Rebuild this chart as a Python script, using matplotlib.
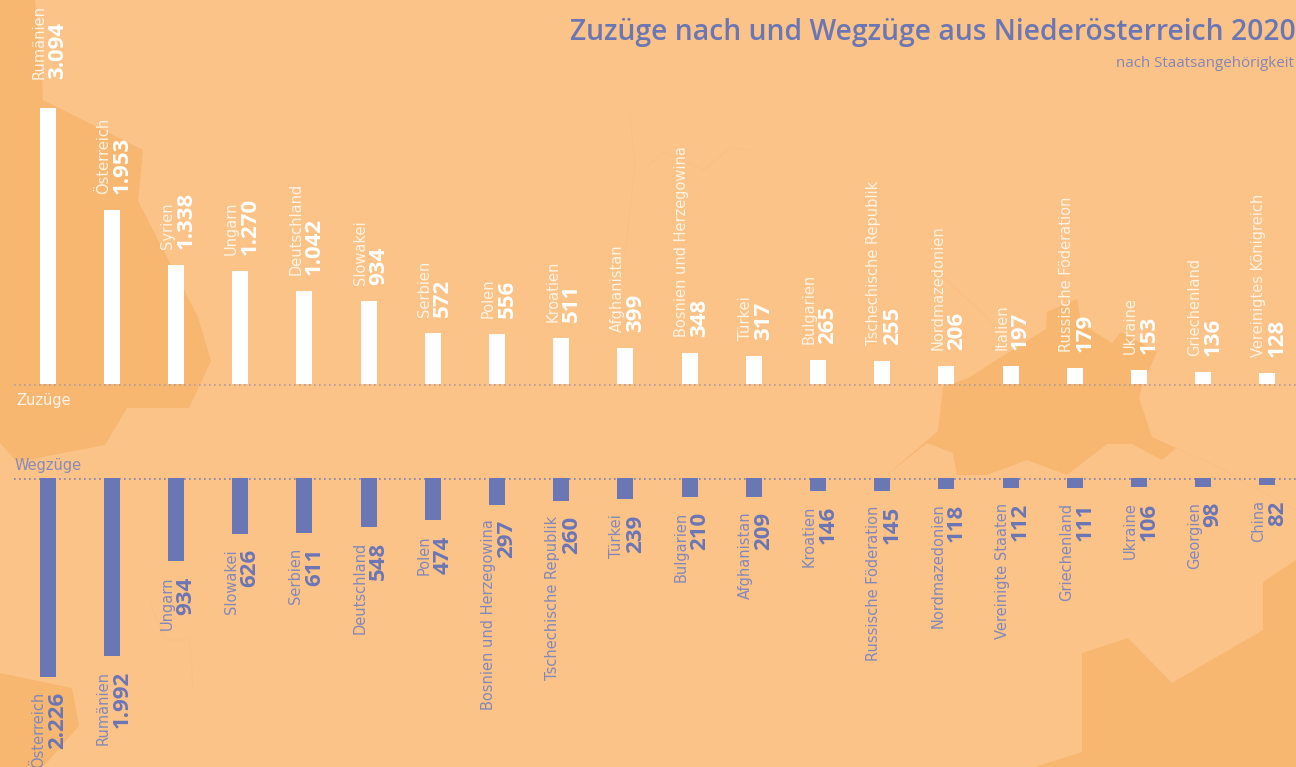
import numpy as np
from matplotlib import pyplot as plt
from matplotlib.patches import Polygon

zuzug_names = ["Rumänien", "Österreich", "Syrien", "Ungarn", "Deutschland", "Slowakei", "Serbien", "Polen",
               "Kroatien", "Afghanistan", "Bosnien und Herzegowina", "Türkei", "Bulgarien",
               "Tschechische Republik", "Nordmazedonien", "Italien", "Russische Föderation", "Ukraine",
               "Griechenland", "Vereinigtes Königreich"]
zuzug_values = [3094, 1953, 1338, 1270, 1042, 934, 572, 556, 511, 399, 348, 317, 265, 255, 206, 197, 179, 153, 136, 128]

wegzug_names = ["Österreich", "Rumänien", "Ungarn", "Slowakei", "Serbien", "Deutschland", "Polen",
                "Bosnien und Herzegowina", "Tschechische Republik", "Türkei", "Bulgarien", "Afghanistan",
                "Kroatien", "Russische Föderation", "Nordmazedonien", "Vereinigte Staaten", "Griechenland",
                "Ukraine", "Georgien", "China"]
wegzug_values = [2226, 1992, 934, 626, 611, 548, 474, 297, 260, 239, 210, 209, 146, 145, 118, 112, 111, 106, 98, 82]

W, H = 1296, 767
BG = "#FBC388"
DARK = "#F7B770"
FAINT = "#FABF84"
BLUE = "#6B76B5"
SCALE = 0.0893  # pixels per person
Y_TOP = 384
Y_BOTTOM = 478

fig = plt.figure(figsize=(W / 100, H / 100), dpi=100, facecolor=BG)

# map shapes in the background, in pixels
bg = fig.add_axes([0, 0, 1, 1])
bg.set_xlim(0, W)
bg.set_ylim(H, 0)
bg.axis("off")
shapes = [
    [(0, 0), (35, 0), (42, 77), (43, 100), (143, 150), (138, 201), (198, 317), (211, 361), (189, 408), (127, 408),
     (105, 445), (17, 462), (0, 443)],
    [(0, 673), (72, 688), (79, 726), (43, 767), (0, 767)],
    [(887, 475), (938, 431), (943, 387), (968, 378), (1046, 329), (1047, 312), (1077, 299), (1081, 323), (1112, 343),
     (1121, 332), (1157, 352), (1143, 383), (1139, 398), (1152, 437), (1176, 448), (1162, 460), (1132, 444),
     (1107, 444), (1067, 475), (1027, 460), (987, 475), (957, 475), (953, 453), (927, 443)],
    [(1035, 767), (1082, 752), (1082, 653), (1128, 638), (1172, 683), (1263, 630), (1263, 582), (1296, 560), (1296, 767)],
]
for s in shapes:
    bg.add_patch(Polygon(s, closed=True, facecolor=DARK, edgecolor="none"))
borders = [
    [(630, 115), (635, 165), (625, 255)],
    [(647, 167), (663, 152), (704, 170), (730, 148), (750, 150)],
    [(935, 270), (985, 315), (1000, 335)],
    [(1176, 448), (1225, 470), (1240, 480), (1296, 510)],
    [(150, 603), (165, 640), (190, 640), (193, 690)],
]
for b in borders:
    bg.plot(*zip(*b), color=FAINT, lw=0.7)
bg.plot([14, W], [Y_TOP + 0.5, Y_TOP + 0.5], color="#B79A9E", lw=1.2, ls=(0, (1, 2)))
bg.plot([14, W], [Y_BOTTOM + 0.5, Y_BOTTOM + 0.5], color="#7F80AE", lw=1.2, ls=(0, (1, 2)))

bg.text(16, 405, "Zuzüge", color="white", fontsize=10.5, family="DejaVu Sans", alpha=0.85)
bg.text(15, 470, "Wegzüge", color="#8A8BB4", fontsize=10.5, family="DejaVu Sans")
bg.text(570, 40, "Zuzüge nach und Wegzüge aus Niederösterreich 2020", color=BLUE, fontsize=20.3,
        family="Open Sans", weight="semibold")
bg.text(1116, 67, "nach Staatsangehörigkeit", color="#8386B6", fontsize=10.9, family="Open Sans")

# slot of 64.2 px per country, first centre at 47.6 px
xlim = (-47.6 / 64.2, (W - 47.6) / 64.2)

top = fig.add_axes([0, 1 - Y_TOP / H, 1, Y_TOP / H])
top.set_xlim(xlim)
top.set_ylim(0, Y_TOP / SCALE)
top.axis("off")
top.patch.set_alpha(0)
x = np.arange(len(zuzug_values))
top.bar(x, zuzug_values, width=0.25, color="white")

low = fig.add_axes([0, 0, 1, 1 - Y_BOTTOM / H])
low.set_xlim(xlim)
low.set_ylim((H - Y_BOTTOM) / SCALE, 0)
low.axis("off")
low.patch.set_alpha(0)
low.bar(x, wegzug_values, width=0.25, color=BLUE)


def label(ax, i, name, value, gap, color, name_color, ha):
    txt = f"{value:,}".replace(",", ".")
    ax.annotate(name, (i, value), xytext=(-4, gap), textcoords="offset pixels", rotation=90, rotation_mode="anchor",
                ha=ha, va="baseline", color=name_color, fontsize=10.5, family="DejaVu Sans", annotation_clip=False)
    ax.annotate(txt, (i, value), xytext=(15.5, gap), textcoords="offset pixels", rotation=90, rotation_mode="anchor",
                ha=ha, va="baseline", color=color, fontsize=16, family="Open Sans", weight="bold",
                annotation_clip=False)


for i, (n, v) in enumerate(zip(zuzug_names, zuzug_values)):
    label(top, i, n, v, 29 if i == 0 else 16, "white", "#FFF3E3", "left")
for i, (n, v) in enumerate(zip(wegzug_names, wegzug_values)):
    label(low, i, n, v, -15, BLUE, "#8488B9", "right")

plt.savefig("out.png", dpi=100, facecolor=BG)
